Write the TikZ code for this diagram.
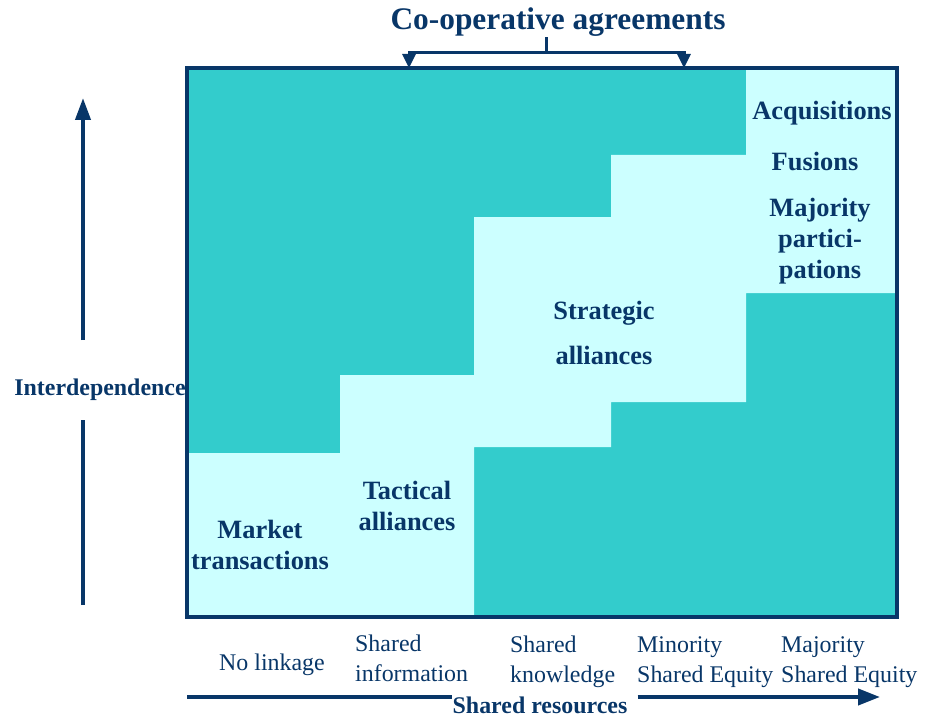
\documentclass[tikz,border=0pt]{standalone}
\usepackage{fontspec}
\setmainfont{Liberation Serif}
\usetikzlibrary{arrows.meta}

% 颜色: 深蓝文字, 青色底, 浅青色区域
\definecolor{navy}{RGB}{8,54,104}
\definecolor{tealbg}{RGB}{51,204,204}
\definecolor{lightbg}{RGB}{204,255,255}

\begin{document}
\begin{tikzpicture}[x=1bp,y=-1bp,  % 一个单位就是一个像素, y 向下
  big/.style={inner sep=0pt,text=navy,align=center,font=\fontsize{26.5}{31}\selectfont\bfseries},
  small/.style={inner sep=0pt,text=navy,align=left,font=\fontsize{24}{30}\selectfont},
  axis/.style={navy,line width=4bp}]

  % 固定画布大小
  \useasboundingbox (0,0) rectangle (928,717);

  % 先整块涂青色
  \fill[tealbg] (187,68) rectangle (897,617);

  % 浅色的台阶区域, 一条折线围起来
  \fill[lightbg] (187,617) -- (187,453) -- (340,453) -- (340,375) -- (474,375)
    -- (474,217) -- (611,217) -- (611,155) -- (746,155) -- (746,68) -- (897,68)
    -- (897,293) -- (746,293) -- (746,402) -- (611,402) -- (611,447) -- (474,447)
    -- (474,617) -- cycle;

  % 外框
  \draw[navy,line width=3.5bp] (187,68) rectangle (897,617);

  % 各区域的文字
  \node[big] (market) at (260,545) {Market\\transactions};
  \node[big] (tactical) at (407,506) {Tactical\\alliances};
  \node[big,font=\fontsize{26.5}{46}\selectfont\bfseries] (strategic) at (604,333) {Strategic\\alliances};
  \node[big] (acq) at (822,113) {Acquisitions};
  \node[big] (fusions) at (815,162) {Fusions};
  \node[big] (majority) at (820,241) {Majority\\partici-\\pations};

  % 顶部标题和括号
  \node[big,font=\fontsize{31.5}{36}\selectfont\bfseries] (title) at (558,22) {Co-operative agreements};
  \coordinate (cm) at (546,53);
  \coordinate (cl) at (409,53);
  \coordinate (cr) at (684,53);
  \coordinate (bl) at (409,68);
  \coordinate (br) at (684,68);
  \draw[navy,line width=3bp] (cm) -- (cm |- title.south);
  \draw[navy,line width=3bp,{Triangle[length=14bp,width=13bp]}-{Triangle[length=14bp,width=13bp]}]
    (bl) -- (cl) -- (cr) -- (br);

  % 左边的纵轴, 中间被文字断开
  \node[big,font=\fontsize{24}{28}\selectfont\bfseries] (interdep) at (100,390) {Interdependence};
  \coordinate (ybot) at (83,605);
  \coordinate (ymid1) at (83,420);
  \coordinate (ymid2) at (83,340);
  \coordinate (ytop) at (83,98);
  \draw[axis] (ybot) -- (ymid1);
  \draw[axis,-{Triangle[length=22bp,width=15bp]}] (ymid2) -- (ytop);

  % 下方各档的说明
  \node[small] (nolink) at (272,665) {No linkage};
  \node[small,anchor=west] (info) at (355,658) {Shared\\information};
  \node[small,anchor=west] (know) at (510,662) {Shared\\knowledge};
  \node[small,anchor=west] (minority) at (637,662) {Minority\\Shared Equity};
  \node[small,anchor=west] (majeq) at (781,662) {Majority\\Shared Equity};

  % 横轴, 同样被文字断开
  \node[big,font=\fontsize{24}{28}\selectfont\bfseries] (resources) at (540,705) {Shared resources};
  \coordinate (xstart) at (187,697);
  \coordinate (xend) at (880,697);
  \draw[axis] (xstart) -- (xstart -| resources.west);
  \draw[axis,-{Triangle[length=22bp,width=16bp]}] ([xshift=10bp]resources.east |- xstart) -- (xend);

\end{tikzpicture}
\end{document}
